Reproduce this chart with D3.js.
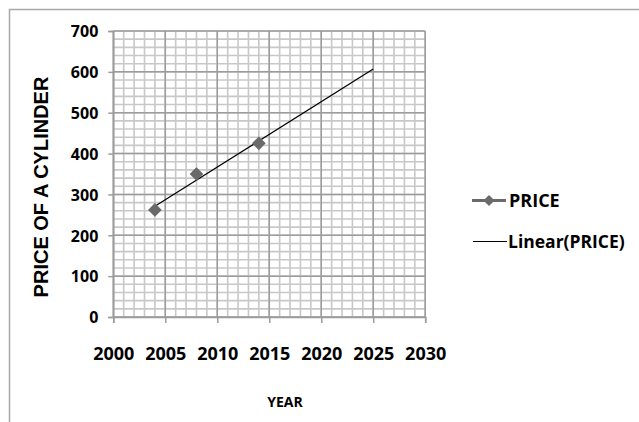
<!doctype html>
<html>
<head>
<meta charset="utf-8">
<title>Price of a cylinder</title>
<script src="https://cdn.jsdelivr.net/npm/d3@7"></script>
<style>
  html, body { margin: 0; padding: 0; background: #fff; }
  svg { display: block; }
  .tick-label { font-family: "Open Sans", sans-serif; font-weight: bold; fill: #000; }
</style>
</head>
<body>
<div id="chart"></div>
<script>
// data
var years = [2004, 2008, 2014];
var prices = [262, 350, 425];
var xTicks = [2000, 2005, 2010, 2015, 2020, 2025, 2030];
var yTicks = [0, 100, 200, 300, 400, 500, 600, 700];
var trendEnd = 2025;   // trendline forecast out to here

var W = 639, H = 422;
var margin = {top: 31, right: 214, bottom: 105, left: 113.3};

var svg = d3.select("#chart").append("svg")
    .attr("width", W)
    .attr("height", H);

// outer chart border (only top & left visible in the crop)
svg.append("path")
    .attr("d", "M9.5," + H + "V9.5H" + W)
    .attr("fill", "none")
    .attr("stroke", "#a8a8a8")
    .attr("stroke-width", 1.5);

var x = d3.scaleLinear().domain([2000, 2030]).range([margin.left, W - margin.right + 0.2]);
var y = d3.scaleLinear().domain([0, 700]).range([H - margin.bottom, margin.top]);

var g = svg.append("g");

// minor grid
g.append("g").selectAll("line")
    .data(d3.range(2000, 2031, 1))
    .join("line")
    .attr("x1", d => x(d)).attr("x2", d => x(d))
    .attr("y1", y(0)).attr("y2", y(700))
    .attr("stroke", "#c8c8c8").attr("stroke-width", 1.6);
g.append("g").selectAll("line")
    .data(d3.range(0, 701, 20))
    .join("line")
    .attr("y1", d => y(d)).attr("y2", d => y(d))
    .attr("x1", x(2000)).attr("x2", x(2030))
    .attr("stroke", "#c8c8c8").attr("stroke-width", 1.6);

// major grid
g.append("g").selectAll("line")
    .data(xTicks)
    .join("line")
    .attr("x1", d => x(d)).attr("x2", d => x(d))
    .attr("y1", y(0)).attr("y2", y(700))
    .attr("stroke", "#9c9c9c").attr("stroke-width", 1.5);
g.append("g").selectAll("line")
    .data(yTicks)
    .join("line")
    .attr("y1", d => y(d)).attr("y2", d => y(d))
    .attr("x1", x(2000)).attr("x2", x(2030))
    .attr("stroke", "#9c9c9c").attr("stroke-width", 1.5);

// axes
var xAxis = svg.append("g")
    .attr("transform", "translate(0," + y(0) + ")")
    .call(d3.axisBottom(x).tickValues(xTicks).tickFormat(d3.format("d")).tickSize(6).tickPadding(24));
var yAxis = svg.append("g")
    .attr("transform", "translate(" + x(2000) + ",0)")
    .call(d3.axisLeft(y).tickValues(yTicks).tickSize(5).tickPadding(10));
[xAxis, yAxis].forEach(function (a) {
  a.select(".domain").attr("stroke", "#9c9c9c").attr("stroke-width", 1.5);
  a.selectAll(".tick line").attr("stroke", "#9c9c9c").attr("stroke-width", 1.5);
  a.selectAll(".tick text").attr("class", "tick-label").attr("fill", "#000");
});
xAxis.selectAll(".tick text").style("font-size", "18px");
yAxis.selectAll(".tick text").style("font-size", "16px").attr("dy", "0.36em");

// linear trendline (least squares on the data)
var mx = d3.mean(years), my = d3.mean(prices);
var sxy = d3.sum(years, (v, i) => (v - mx) * (prices[i] - my));
var sxx = d3.sum(years, v => (v - mx) * (v - mx));
var slope = sxy / sxx, icpt = my - slope * mx;
var trendX = [d3.min(years), trendEnd];

svg.append("path")
    .datum(trendX)
    .attr("d", d3.line().x(d => x(d)).y(d => y(icpt + slope * d)))
    .attr("fill", "none")
    .attr("stroke", "#000")
    .attr("stroke-width", 1.2);

// markers
var diamond = d3.symbol().type(d3.symbolDiamond2).size(120);
svg.append("g").selectAll("path")
    .data(years)
    .join("path")
    .attr("transform", (d, i) => "translate(" + x(d) + "," + y(prices[i]) + ")")
    .attr("d", diamond)
    .attr("fill", "#6a6a6a");

// axis titles
svg.append("text")
    .attr("transform", "translate(48,187) rotate(-90)")
    .attr("text-anchor", "middle")
    .style("font-family", "'Liberation Sans', Arial, sans-serif")
    .style("font-weight", "bold")
    .style("font-size", "20px")
    .text("PRICE OF A CYLINDER");

svg.append("text")
    .attr("x", 285).attr("y", 407)
    .attr("text-anchor", "middle")
    .style("font-family", "'Open Sans', sans-serif")
    .style("font-weight", "bold")
    .style("font-size", "14px")
    .text("YEAR");

// legend
var leg = svg.append("g");
leg.append("line")
    .attr("x1", 472).attr("x2", 506).attr("y1", 200.5).attr("y2", 200.5)
    .attr("stroke", "#6a6a6a").attr("stroke-width", 3.2);
leg.append("path")
    .attr("transform", "translate(489,200.5)")
    .attr("d", d3.symbol().type(d3.symbolDiamond2).size(80))
    .attr("fill", "#6a6a6a");
leg.append("text")
    .attr("x", 509).attr("y", 200.5).attr("dy", "0.36em")
    .attr("class", "tick-label")
    .style("font-size", "18px")
    .text("PRICE");

leg.append("line")
    .attr("x1", 473).attr("x2", 507).attr("y1", 241.5).attr("y2", 241.5)
    .attr("stroke", "#000").attr("stroke-width", 1);
leg.append("text")
    .attr("x", 508).attr("y", 241.5).attr("dy", "0.36em")
    .attr("class", "tick-label")
    .style("font-size", "17.5px")
    .text("Linear(PRICE)");
</script>
</body>
</html>
